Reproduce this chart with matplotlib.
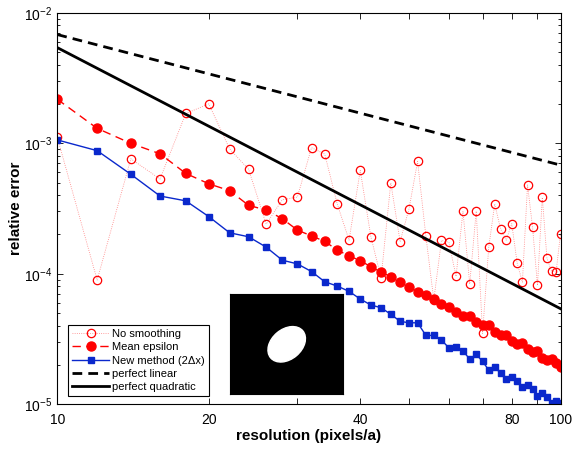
import matplotlib
matplotlib.use('Agg')
import matplotlib.pyplot as plt
from matplotlib.patches import Ellipse
from matplotlib.ticker import FixedLocator, FixedFormatter, LogLocator, NullFormatter

plt.rcParams['font.family'] = ['Liberation Sans', 'DejaVu Sans']
plt.rcParams['mathtext.fontset'] = 'custom'
plt.rcParams['mathtext.rm'] = 'Liberation Sans'
plt.rcParams['mathtext.it'] = 'Liberation Sans:italic'
plt.rcParams['mathtext.bf'] = 'Liberation Sans:bold'

# resolutions (pixels/a)
res = list(range(10, 101, 2))

no_smoothing = [1.11e-3, 8.95e-5, 7.60e-4, 5.32e-4, 1.69e-3, 2.00e-3, 9.04e-4, 6.31e-4,
                2.40e-4, 3.69e-4, 3.87e-4, 9.25e-4, 8.26e-4, 3.42e-4, 1.81e-4, 6.19e-4,
                1.91e-4, 9.31e-5, 4.98e-4, 1.76e-4, 3.15e-4, 7.26e-4, 1.95e-4, 6.30e-5,
                1.80e-4, 1.74e-4, 9.55e-5, 3.01e-4, 8.34e-5, 3.02e-4, 3.49e-5, 1.59e-4,
                3.42e-4, 2.21e-4, 1.81e-4, 2.42e-4, 1.21e-4, 8.63e-5, 4.79e-4, 2.27e-4,
                8.15e-5, 3.85e-4, 1.31e-4, 1.05e-4, 1.03e-4, 2.03e-4]

mean_eps = [2.17e-3, 1.30e-3, 9.98e-4, 8.30e-4, 5.87e-4, 4.89e-4, 4.33e-4, 3.34e-4,
            3.08e-4, 2.64e-4, 2.16e-4, 1.95e-4, 1.77e-4, 1.52e-4, 1.37e-4, 1.26e-4,
            1.13e-4, 1.03e-4, 9.49e-5, 8.63e-5, 7.90e-5, 7.28e-5, 6.90e-5, 6.37e-5,
            5.82e-5, 5.58e-5, 5.09e-5, 4.77e-5, 4.74e-5, 4.25e-5, 4.03e-5, 4.05e-5,
            3.57e-5, 3.37e-5, 3.41e-5, 3.07e-5, 2.89e-5, 2.93e-5, 2.64e-5, 2.51e-5,
            2.54e-5, 2.28e-5, 2.17e-5, 2.21e-5, 2.06e-5, 1.94e-5]

new_method = [1.06e-3, 8.77e-4, 5.78e-4, 3.94e-4, 3.62e-4, 2.74e-4, 2.06e-4, 1.92e-4,
              1.60e-4, 1.27e-4, 1.19e-4, 1.04e-4, 8.68e-5, 8.05e-5, 7.33e-5, 6.40e-5,
              5.76e-5, 5.49e-5, 4.89e-5, 4.32e-5, 4.21e-5, 4.21e-5, 3.37e-5, 3.37e-5,
              3.10e-5, 2.71e-5, 2.73e-5, 2.56e-5, 2.22e-5, 2.41e-5, 2.13e-5, 1.83e-5,
              1.92e-5, 1.74e-5, 1.57e-5, 1.62e-5, 1.50e-5, 1.35e-5, 1.41e-5, 1.30e-5,
              1.16e-5, 1.23e-5, 1.14e-5, 1.03e-5, 1.06e-5, 1.03e-5]

# reference slopes, endpoints only
ref_x = [10, 100]
perfect_linear = [6.8e-3, 6.8e-4]
perfect_quadratic = [5.4e-3, 5.4e-5]

xticks = [10, 20, 30, 40, 50, 60, 70, 80, 90, 100]
xticklabels = ['10', '20', '', '40', '', '', '', '80', '', '100']

red = '#ff0000'
blue = '#0a28cc'

fig = plt.figure(figsize=(5.72, 4.49), dpi=100)
ax = fig.add_axes([0.1002, 0.0996, 0.8797, 0.8721])

ax.plot(res, no_smoothing, linestyle=':', color='#ff8080', linewidth=0.6,
        marker='o', markersize=6, markerfacecolor='none', markeredgecolor=red,
        markeredgewidth=0.9, label='No smoothing')
ax.plot(res, mean_eps, linestyle='--', color=red, linewidth=1.0, dashes=(6, 4),
        marker='o', markersize=6.5, markerfacecolor=red, markeredgecolor=red,
        label='Mean epsilon')
ax.plot(res, new_method, linestyle='-', color=blue, linewidth=1.0,
        marker='s', markersize=4.5, markerfacecolor=blue, markeredgecolor=blue,
        label='New method (2Δx)')
ax.plot(ref_x, perfect_linear, color='black', linewidth=2.0, linestyle='--',
        dashes=(3.5, 2.2), label='perfect linear')
ax.plot(ref_x, perfect_quadratic, color='black', linewidth=2.0, label='perfect quadratic')

ax.set_xscale('log')
ax.set_yscale('log')
ax.set_xlim(10, 100)
ax.set_ylim(1e-5, 1e-2)

ax.xaxis.set_major_locator(FixedLocator(xticks))
ax.xaxis.set_major_formatter(FixedFormatter(xticklabels))
ax.xaxis.set_minor_locator(FixedLocator([]))
ax.yaxis.set_major_locator(LogLocator(base=10, numticks=10))
ax.yaxis.set_minor_locator(LogLocator(base=10, subs=range(2, 10), numticks=20))
ax.yaxis.set_minor_formatter(NullFormatter())

ax.tick_params(which='both', direction='in', top=True, right=True, labelsize=10)
ax.tick_params(which='major', length=4, width=0.6)
ax.tick_params(which='minor', length=2.5, width=0.6)
ax.tick_params(axis='x', pad=6)
for s in ax.spines.values():
    s.set_linewidth(0.8)

ax.set_xlabel('resolution (pixels/a)', fontsize=11, fontweight='bold', labelpad=2)
ax.set_ylabel('relative error', fontsize=11, fontweight='bold', labelpad=1)

leg = ax.legend(loc='lower left', bbox_to_anchor=(0.022, 0.021), borderaxespad=0,
                fontsize=8, fancybox=False, framealpha=1, edgecolor='black',
                handlelength=3.3, handletextpad=0.3, labelspacing=0.3,
                borderpad=0.35)
leg.get_frame().set_linewidth(0.8)

# inset: the inclusion geometry
inset = fig.add_axes([230 / 572, 1 - 394 / 449, 113 / 572, 100 / 449])
inset.set_facecolor('black')
inset.set_xlim(0, 113)
inset.set_ylim(0, 100)
inset.add_patch(Ellipse((56.7, 49.7), 42, 30, angle=40, color='white'))
inset.set_xticks([])
inset.set_yticks([])
for s in inset.spines.values():
    s.set_color('black')

fig.savefig('out.png', dpi=100)
